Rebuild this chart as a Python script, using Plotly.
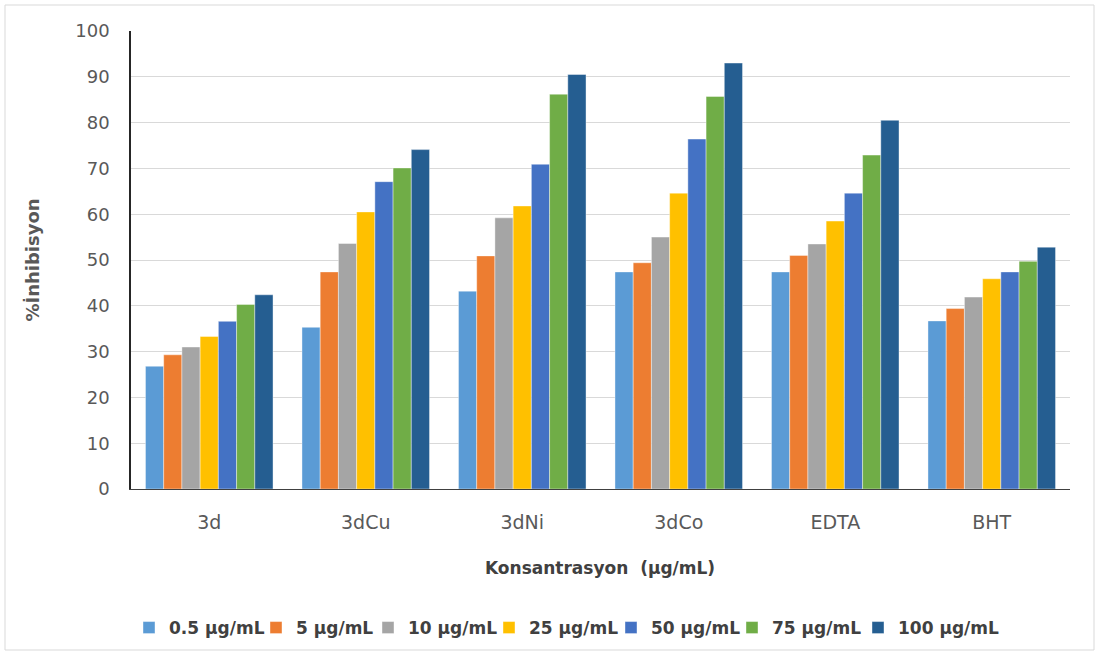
import plotly.graph_objects as go

categories = ["3d", "3dCu", "3dNi", "3dCo", "EDTA", "BHT"]
series_names = ["0.5 µg/mL", "5 µg/mL", "10 µg/mL", "25 µg/mL", "50 µg/mL", "75 µg/mL", "100 µg/mL"]
v_05 = [26.8, 35.3, 43.2, 47.4, 47.4, 36.7]
v_5 = [29.3, 47.4, 50.9, 49.4, 51.0, 39.4]
v_10 = [31.0, 53.6, 59.2, 55.0, 53.5, 41.9]
v_25 = [33.3, 60.5, 61.8, 64.6, 58.5, 45.9]
v_50 = [36.6, 67.1, 70.9, 76.4, 64.6, 47.4]
v_75 = [40.3, 70.1, 86.2, 85.7, 72.9, 49.7]
v_100 = [42.4, 74.1, 90.5, 93.0, 80.5, 52.8]
series_values = [v_05, v_5, v_10, v_25, v_50, v_75, v_100]
colors = ["#5B9BD5", "#ED7D31", "#A5A5A5", "#FFC000", "#4472C4", "#70AD47", "#255E91"]
y_ticks = [0, 10, 20, 30, 40, 50, 60, 70, 80, 90, 100]

# pixel x where each legend entry's text begins (layout only)
legend_text_x = [166, 293, 405, 526, 648, 769, 895]

FONT = "DejaVu Sans, sans-serif"

W, H = 1099, 655
L, R, T, B = 131, 29, 31, 166
pw, ph = W - L - R, H - T - B

def px(x):
    return (x - L) / pw

def py(y):
    return (H - B - y) / ph

fig = go.Figure()
legend_layouts = {}
for i, (name, vals, col) in enumerate(zip(series_names, series_values, colors)):
    lname = "legend" if i == 0 else f"legend{i + 1}"
    fig.add_trace(go.Bar(
        x=categories, y=vals, name=name, legend=lname,
        marker=dict(color=col, line=dict(color="rgba(255,255,255,0.5)", width=0.8)),
    ))
    legend_layouts[lname] = dict(
        orientation="h", x=px(legend_text_x[i] - 37), xanchor="left",
        y=py(628), yanchor="middle",
        font=dict(size=17, color="#404040", family=FONT, weight="bold"),
        itemwidth=30, bgcolor="rgba(0,0,0,0)",
    )

fig.update_layout(
    width=W, height=H,
    margin=dict(l=L, r=R, t=T, b=B, autoexpand=False),
    paper_bgcolor="white", plot_bgcolor="white",
    barmode="group", bargap=0.185, bargroupgap=0,
    font=dict(family=FONT, color="#595959"),
    showlegend=True,
    xaxis=dict(
        showline=True, linecolor="#404040", linewidth=1,
        showgrid=False, ticks="", ticklabelstandoff=16,
        tickfont=dict(size=19, color="#595959", family=FONT),
    ),
    yaxis=dict(
        range=[0, 100], tickvals=y_ticks, showline=True, linecolor="#262626", linewidth=1.5,
        showgrid=True, gridcolor="#D9D9D9", gridwidth=1, zeroline=False,
        ticks="", ticklabelstandoff=16,
        tickfont=dict(size=18, color="#595959", family=FONT),
        title=dict(text="<b>%İnhibisyon</b>", font=dict(size=18, color="#595959", family=FONT), standoff=31),
    ),
    annotations=[dict(
        text="<b>Konsantrasyon \u00a0(µg/mL)</b>", xref="paper", yref="paper",
        x=px(600), y=py(568), xanchor="center", yanchor="middle", showarrow=False,
        font=dict(size=17, color="#404040", family=FONT),
    )],
    shapes=[dict(
        type="rect", xref="paper", yref="paper",
        x0=px(5), x1=px(1094), y0=py(650), y1=py(5),
        line=dict(color="#D9D9D9", width=1), fillcolor="rgba(0,0,0,0)", layer="below",
    )],
    **legend_layouts,
)

fig.write_html("out.html", config={"displayModeBar": False},
               post_script="document.body.style.margin='0';")
